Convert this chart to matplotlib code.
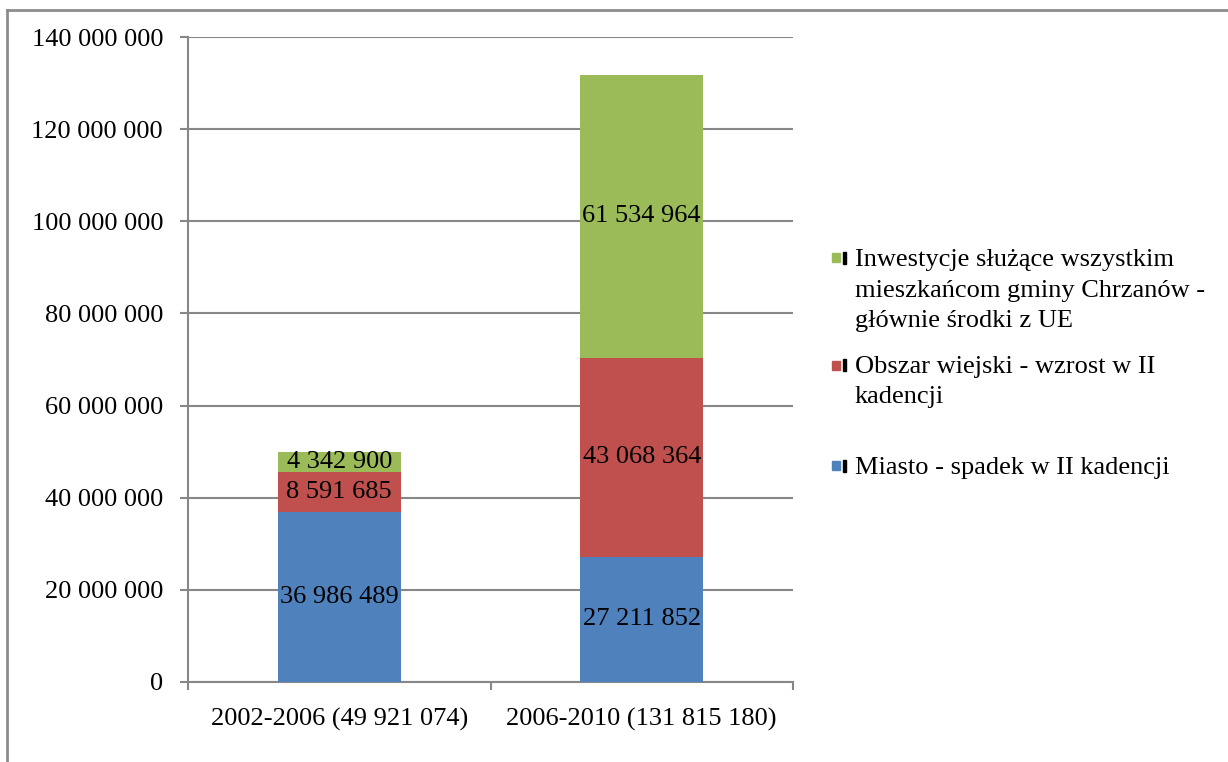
import numpy as np
import matplotlib.pyplot as plt
from matplotlib.lines import Line2D
from matplotlib.patches import Rectangle

plt.rcParams['font.family'] = ['Liberation Serif', 'DejaVu Serif']

# dane
kadencje = ['2002-2006 (49 921 074)', '2006-2010 (131 815 180)']
miasto = [36986489, 27211852]
obszar_wiejski = [8591685, 43068364]
inwestycje = [4342900, 61534964]

serie = ['Miasto - spadek w II kadencji',
         'Obszar wiejski - wzrost w II\nkadencji',
         'Inwestycje służące wszystkim\nmieszkańcom gminy Chrzanów -\ngłównie środki z UE']
kolory = ['#4F81BD', '#C0504D', '#9BBB59']
yticks = np.arange(0, 140000001, 20000000)


def fmt(v):
    return '{:,}'.format(int(v)).replace(',', ' ')


fig = plt.figure(figsize=(12.28, 7.62), dpi=100)
ax = fig.add_axes([188 / 1228, 1 - 682 / 762, 605 / 1228, 645 / 762])

x = np.arange(len(kadencje))
szer = 0.405
dol = np.zeros(len(kadencje))
for wart, kol in zip([miasto, obszar_wiejski, inwestycje], kolory):
    bars = ax.bar(x, wart, szer, bottom=dol, color=kol, zorder=3)
    ax.bar_label(bars, labels=[fmt(v) for v in wart], label_type='center',
                 fontsize=19, color='black')
    dol += np.array(wart)

gray = '#878787'
ax.set_xlim(-0.5, 1.5)
ax.set_ylim(0, 140000000)
ax.set_yticks(yticks)
ax.set_yticklabels([fmt(v) for v in yticks], fontsize=19)
ax.set_xticks(x)
ax.set_xticklabels(kadencje, fontsize=19)
ax.set_xticks([-0.5, 0.5, 1.5], minor=True)
ax.tick_params(axis='x', which='major', length=0, pad=19)
ax.tick_params(axis='x', which='minor', length=6, width=1.5, color=gray, direction='out')
ax.tick_params(axis='y', length=6, width=1.5, color=gray, pad=12)
ax.grid(axis='y', color=gray, linewidth=1.5, zorder=0)
ax.set_axisbelow(True)
for s in ['top', 'right']:
    ax.spines[s].set_visible(False)
for s in ['left', 'bottom']:
    ax.spines[s].set_color(gray)
    ax.spines[s].set_linewidth(1.5)

# legenda (górna krawędź pierwszej linii każdego wpisu)
leg_top = [457, 356, 249]
for nazwa, kol, yy in zip(serie, kolory, leg_top):
    fy = 1 - yy / 762
    srodek = fy - 9 / 762
    fig.patches.append(Rectangle((832 / 1228, srodek - 4.5 / 762), 8 / 1228, 9 / 762,
                                 transform=fig.transFigure, color=kol))
    fig.patches.append(Rectangle((843 / 1228, srodek - 6 / 762), 3 / 1228, 12 / 762,
                                 transform=fig.transFigure, color='black'))
    fig.text(855 / 1228, fy, nazwa, fontsize=19, va='top', ha='left',
             linespacing=1.5)

# ramka
fig.add_artist(Line2D([7 / 1228, 7 / 1228], [0, 1 - 10 / 762], transform=fig.transFigure,
                      color='#8c8c8c', linewidth=2))
fig.add_artist(Line2D([7 / 1228, 1], [1 - 10 / 762, 1 - 10 / 762], transform=fig.transFigure,
                      color='#8c8c8c', linewidth=2))

fig.savefig('out.png', dpi=100)
